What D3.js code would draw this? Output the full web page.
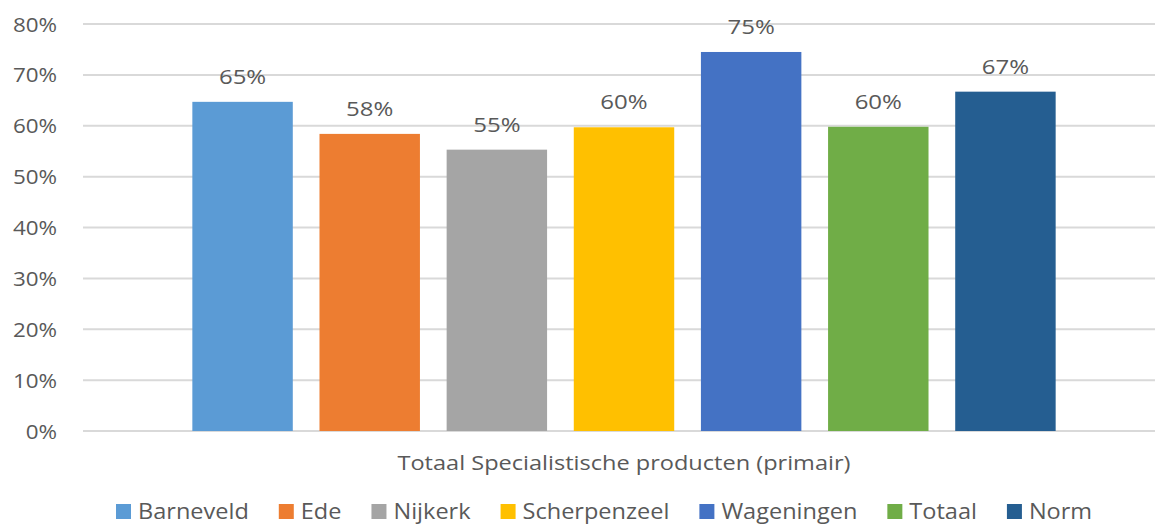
<!DOCTYPE html>
<html>
<head>
<meta charset="utf-8">
<script src="https://cdn.jsdelivr.net/npm/d3@7"></script>
<style>
  body { margin: 0; background: #fff; overflow: hidden; }
  svg { display: block; }
  text { font-family: "Open Sans", sans-serif; fill: #595959; }
</style>
</head>
<body>
<div id="chart"></div>
<script>
// data
var series = ["Barneveld", "Ede", "Nijkerk", "Scherpenzeel", "Wageningen", "Totaal", "Norm"];
var values = [0.647, 0.584, 0.553, 0.597, 0.745, 0.598, 0.667];
var valueLabels = ["65%", "58%", "55%", "60%", "75%", "60%", "67%"];
var colors = ["#5B9BD5", "#ED7D31", "#A5A5A5", "#FFC000", "#4472C4", "#70AD47", "#255E91"];
var yTicks = [0, 0.1, 0.2, 0.3, 0.4, 0.5, 0.6, 0.7, 0.8];
var categoryLabel = "Totaal Specialistische producten (primair)";

var W = 1155, H = 525;

// the original text is a bit wider than Open Sans, stretch it a little
// returns the stretched length of the last text
function stretch(sel, k) {
    var out = 0;
    sel.each(function () {
        var len = this.getComputedTextLength();
        out = len * k;
        d3.select(this)
            .attr("textLength", out)
            .attr("lengthAdjust", "spacingAndGlyphs");
    });
    return out;
}

var svg = d3.select("#chart")
    .append("svg")
    .attr("width", W)
    .attr("height", H);

var x = d3.scaleBand()
    .domain(series)
    .range([83, 1165])
    .paddingInner(0.21)
    .paddingOuter(0.86);

var y = d3.scaleLinear()
    .domain([0, 0.8])
    .range([431, 24]);

// gridlines
svg.append("g")
    .selectAll("line")
    .data(yTicks)
    .enter()
    .append("line")
    .attr("x1", 83)
    .attr("x2", W)
    .attr("y1", function (d) { return y(d); })
    .attr("y2", function (d) { return y(d); })
    .attr("stroke", "#d9d9d9")
    .attr("stroke-width", 2);

// y axis labels
var yAxis = d3.axisLeft(y)
    .tickValues(yTicks)
    .tickFormat(d3.format(".0%"))
    .tickSize(0)
    .tickPadding(0);

var gy = svg.append("g")
    .attr("transform", "translate(57,0)")
    .call(yAxis);
gy.select(".domain").remove();
gy.selectAll("text")
    .attr("font-size", "20px")
    .attr("font-family", "Open Sans, sans-serif")
    .attr("fill", "#595959")
    .attr("dy", "0.35em");
stretch(gy.selectAll("text"), 1.12);

// bars
svg.append("g")
    .selectAll("rect")
    .data(series)
    .enter()
    .append("rect")
    .attr("x", function (d) { return x(d); })
    .attr("width", x.bandwidth())
    .attr("y", function (d, i) { return y(values[i]); })
    .attr("height", function (d, i) { return y(0) - y(values[i]); })
    .attr("fill", function (d, i) { return colors[i]; });

// value labels
var vl = svg.append("g")
    .selectAll("text")
    .data(series)
    .enter()
    .append("text")
    .attr("x", function (d) { return x(d) + x.bandwidth() / 2; })
    .attr("y", function (d, i) { return y(values[i]) - 18; })
    .attr("text-anchor", "middle")
    .attr("font-size", "20px")
    .text(function (d, i) { return valueLabels[i]; });
stretch(vl, 1.2);

// category label under axis
var cat = svg.append("text")
    .attr("x", (x.range()[0] + x.range()[1]) / 2)
    .attr("y", 470)
    .attr("text-anchor", "middle")
    .attr("font-size", "20px")
    .text(categoryLabel);
stretch(cat, 1.177);

// legend (bottom edge is cut in the original, keep it just inside)
var legend = svg.append("g");
var lx = 116;
series.forEach(function (s, i) {
    legend.append("rect")
        .attr("x", lx)
        .attr("y", 504)
        .attr("width", 15)
        .attr("height", 15)
        .attr("fill", colors[i]);
    var t = legend.append("text")
        .attr("x", lx + 22)
        .attr("y", 519)
        .attr("font-size", "21px")
        .text(s);
    var w = stretch(t, 1.12);
    lx += 22 + w + 30;
});
</script>
</body>
</html>
